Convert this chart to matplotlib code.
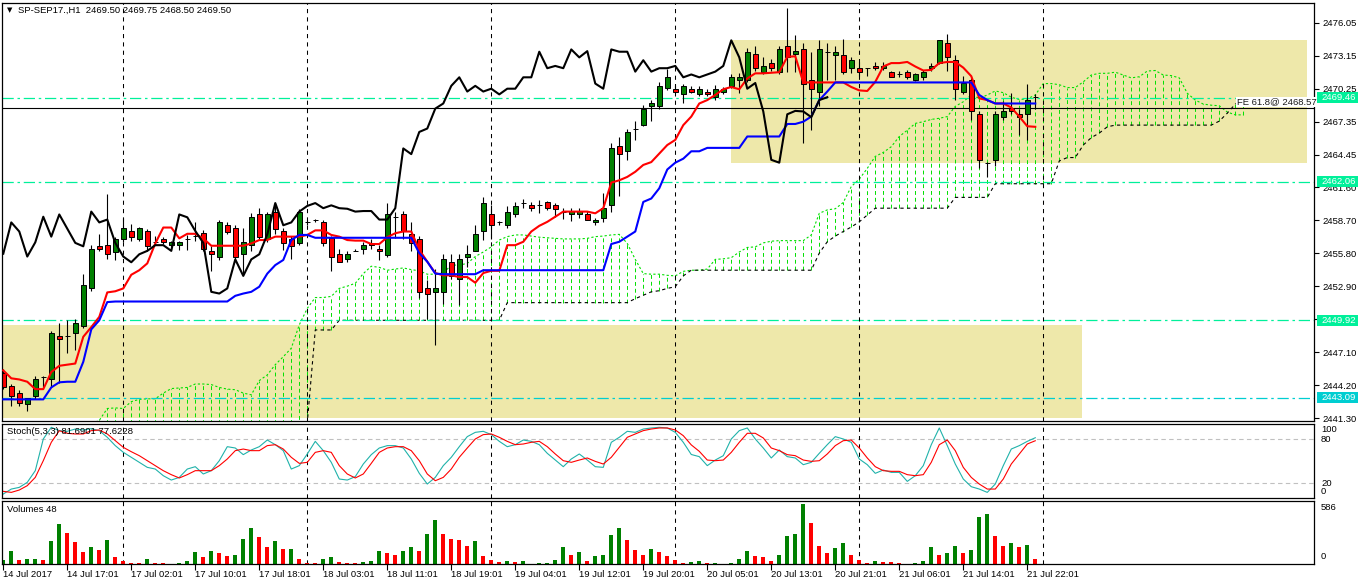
import matplotlib
matplotlib.use("Agg")
import matplotlib.pyplot as plt
import matplotlib.transforms as mtransforms
from matplotlib.patches import Rectangle
import numpy as np

plt.rcParams['font.family'] = ['Liberation Sans', 'DejaVu Sans']
FS = 6.8

# ---------------- data ----------------
symbol = "SP-SEP17.,H1"
tick_labels = ['14 Jul 2017', '14 Jul 17:01', '17 Jul 02:01', '17 Jul 10:01', '17 Jul 18:01',
               '18 Jul 03:01', '18 Jul 11:01', '18 Jul 19:01', '19 Jul 04:01', '19 Jul 12:01',
               '19 Jul 20:01', '20 Jul 05:01', '20 Jul 13:01', '20 Jul 21:01', '21 Jul 06:01',
               '21 Jul 14:01', '21 Jul 22:01']
day_start_bars = [15, 38, 61, 84, 107, 130]
price_ticks = [2476.05, 2473.15, 2470.25, 2467.35, 2464.45, 2461.60, 2458.70,
               2455.80, 2452.90, 2450.00, 2447.10, 2444.20, 2441.30]

opens = [2445.25, 2444.15, 2443.5, 2442.5, 2443.25, 2444.9, 2444.75, 2448.5, 2448.5, 2448.75,
         2449.4, 2452.7, 2456.45, 2456.5, 2455.9, 2457.0, 2457.75, 2457.0, 2457.75, 2456.75,
         2457.0, 2456.5, 2456.5, 2457.0, 2457.3, 2457.55, 2456.0, 2455.5, 2458.25, 2458.0,
         2455.75, 2456.5, 2459.2, 2457.0, 2459.45, 2457.75, 2457.0, 2456.7, 2458.5, 2458.75,
         2458.5, 2457.15, 2455.7, 2455.25, 2456.0, 2456.2, 2456.7, 2456.2, 2455.65, 2458.95,
         2459.2, 2457.45, 2457.0, 2452.7, 2452.4, 2452.4, 2455.0, 2453.5, 2455.5, 2456.0,
         2457.75, 2459.2, 2458.5, 2458.25, 2459.2, 2460.2, 2460.0, 2460.0, 2460.25, 2460.0,
         2459.45, 2459.2, 2459.2, 2459.2, 2458.5, 2458.9, 2460.0, 2465.25, 2464.75, 2466.75,
         2467.05, 2468.75, 2468.75, 2470.3, 2470.25, 2469.75, 2470.25, 2469.75, 2470.0, 2469.5,
         2470.0, 2470.5, 2471.0, 2471.0, 2473.3, 2471.75, 2472.5, 2471.75, 2474.0, 2473.3,
         2473.7, 2471.0, 2470.0, 2473.5, 2473.25, 2473.25, 2472.05, 2472.05, 2472.05, 2472.25,
         2472.05, 2471.75, 2471.5, 2471.75, 2471.0, 2471.25, 2472.05, 2472.5, 2474.25, 2472.75,
         2470.0, 2471.0, 2468.0, 2463.75, 2464.0, 2467.75, 2468.55, 2468.0, 2468.0, 2469.5]
highs = [2445.6, 2444.3, 2443.75, 2443.1, 2445.0, 2445.0, 2449.0, 2449.7, 2449.9, 2450.0,
         2453.95, 2456.5, 2457.5, 2461.0, 2457.2, 2458.9, 2458.4, 2458.1, 2457.9, 2457.3,
         2457.2, 2456.9, 2456.9, 2457.4, 2458.5, 2457.8, 2456.4, 2458.7, 2458.5, 2458.25,
         2458.0, 2459.3, 2459.8, 2459.4, 2460.2, 2458.0, 2457.3, 2459.7, 2458.7, 2458.8,
         2458.7, 2457.3, 2456.2, 2456.0, 2456.2, 2456.75, 2457.0, 2456.5, 2460.2, 2459.45,
         2459.5, 2458.5, 2457.3, 2453.4, 2454.45, 2455.7, 2455.7, 2455.7, 2456.5, 2458.3,
         2460.75, 2460.0, 2458.6, 2459.9, 2460.3, 2460.6, 2460.3, 2460.5, 2460.4, 2460.2,
         2459.8, 2459.75, 2459.75, 2459.5, 2458.9, 2461.05, 2465.5, 2466.0, 2466.7, 2467.45,
         2468.8, 2469.3, 2470.8, 2472.0, 2470.6, 2470.7, 2470.5, 2470.5, 2470.25, 2470.6,
         2470.4, 2471.5, 2471.6, 2473.85, 2474.0, 2473.0, 2472.9, 2474.0, 2477.3, 2475.0,
         2474.3, 2473.5, 2474.5, 2474.3, 2474.0, 2474.6, 2473.0, 2472.6, 2472.1, 2472.6,
         2472.6, 2471.8, 2471.8, 2471.9, 2471.6, 2471.9, 2472.5, 2474.55, 2475.05, 2473.2,
         2471.4, 2471.2, 2468.3, 2463.8, 2468.3, 2469.2, 2469.9, 2468.5, 2470.7, 2469.75]
lows = [2443.9, 2442.4, 2442.4, 2441.9, 2443.0, 2444.0, 2444.0, 2444.4, 2447.0, 2447.3,
        2449.2, 2452.5, 2456.0, 2455.3, 2455.2, 2456.8, 2456.9, 2456.9, 2456.0, 2456.5,
        2456.6, 2456.3, 2456.1, 2456.1, 2456.9, 2456.0, 2454.2, 2455.2, 2457.5, 2455.3,
        2454.0, 2456.0, 2457.0, 2456.8, 2457.5, 2456.1, 2455.25, 2456.5, 2458.3, 2458.5,
        2456.4, 2454.2, 2455.0, 2455.0, 2456.0, 2455.7, 2456.2, 2455.2, 2455.5, 2457.1,
        2457.0, 2456.0, 2451.9, 2450.05, 2447.7, 2451.3, 2453.5, 2451.2, 2454.6, 2456.0,
        2456.95, 2457.0, 2458.3, 2458.0, 2459.0, 2459.75, 2459.5, 2459.3, 2459.6, 2459.0,
        2458.8, 2458.6, 2458.9, 2458.7, 2458.25, 2458.5, 2459.45, 2460.8, 2464.0, 2465.7,
        2467.0, 2467.4, 2468.5, 2470.1, 2469.9, 2468.95, 2469.9, 2469.6, 2469.6, 2469.3,
        2469.8, 2470.3, 2469.9, 2470.8, 2471.8, 2471.5, 2471.8, 2471.5, 2471.75, 2471.75,
        2465.5, 2466.6, 2468.7, 2471.05, 2471.0, 2471.5, 2471.6, 2471.4, 2471.4, 2471.9,
        2471.9, 2471.25, 2471.3, 2471.1, 2470.9, 2471.0, 2471.8, 2472.4, 2471.8, 2469.25,
        2469.8, 2467.5, 2463.25, 2462.5, 2463.5, 2467.5, 2468.0, 2466.2, 2465.7, 2468.5]
closes = [2444.0, 2443.25, 2442.6, 2443.1, 2444.75, 2444.9, 2448.75, 2448.25, 2448.5, 2449.7,
          2453.0, 2456.2, 2456.2, 2455.75, 2457.0, 2458.0, 2457.25, 2458.0, 2456.45, 2456.75,
          2456.75, 2456.75, 2456.75, 2457.0, 2457.3, 2456.2, 2455.75, 2458.5, 2457.7, 2455.5,
          2456.75, 2459.0, 2457.25, 2459.2, 2457.95, 2456.7, 2456.4, 2459.45, 2458.5, 2458.75,
          2456.7, 2455.5, 2455.0, 2455.7, 2456.0, 2456.5, 2456.5, 2456.0, 2459.2, 2458.95,
          2457.75, 2456.7, 2452.4, 2452.25, 2452.7, 2455.25, 2453.8, 2455.25, 2455.7, 2457.45,
          2460.2, 2458.25, 2458.5, 2459.45, 2459.95, 2460.2, 2459.75, 2460.0, 2459.75, 2459.7,
          2459.45, 2459.5, 2459.5, 2458.75, 2458.75, 2459.75, 2465.0, 2464.5, 2466.45, 2466.75,
          2468.5, 2468.95, 2470.5, 2471.25, 2470.0, 2470.5, 2470.0, 2470.25, 2469.75, 2470.25,
          2470.25, 2471.25, 2471.25, 2473.5, 2472.05, 2472.25, 2472.05, 2473.7, 2473.0, 2473.55,
          2470.7, 2470.25, 2473.7, 2473.5, 2473.5, 2471.75, 2472.75, 2471.75, 2472.05, 2472.05,
          2472.25, 2471.25, 2471.5, 2471.25, 2471.5, 2471.75, 2472.25, 2474.5, 2473.0, 2470.25,
          2470.75, 2468.25, 2464.0, 2463.75, 2468.0, 2468.3, 2468.25, 2467.75, 2469.25, 2469.5]

tenkan = [2445.5, 2444.8, 2444.7, 2444.5, 2443.85, 2443.85, 2445.35, 2445.9, 2446.0, 2446.1,
          2448.45, 2449.3, 2450.2, 2452.35, 2452.45, 2452.7, 2453.9, 2454.3, 2454.9, 2456.65,
          2458.05, 2458.05, 2457.1, 2457.5, 2457.5, 2457.1, 2456.45, 2456.45, 2456.45, 2456.45,
          2456.45, 2456.65, 2456.95, 2456.95, 2457.25, 2457.25, 2457.25, 2457.25, 2457.4, 2457.8,
          2457.8, 2457.4, 2457.25, 2456.95, 2456.9, 2456.9, 2456.6, 2456.6, 2457.2, 2457.55,
          2457.7, 2457.7, 2456.1, 2455.05, 2454.05, 2453.85, 2453.85, 2453.7, 2453.7, 2453.2,
          2454.05, 2454.25, 2454.25, 2456.5, 2456.5, 2456.8, 2457.7, 2458.2, 2458.55, 2459.0,
          2459.45, 2459.45, 2459.45, 2459.45, 2459.3, 2459.75, 2462.0, 2462.2, 2462.5, 2462.95,
          2463.55, 2463.8, 2464.55, 2465.3, 2465.75, 2467.05, 2467.8, 2468.95, 2469.25, 2469.7,
          2470.2, 2470.4, 2470.2, 2471.15, 2471.6, 2471.6, 2471.65, 2471.7, 2473.05, 2473.1,
          2470.8, 2470.8, 2470.8, 2470.8, 2470.8, 2470.8, 2470.4, 2470.1, 2470.05, 2470.85,
          2472.2, 2472.5, 2472.5, 2472.6, 2472.2, 2471.85, 2471.9, 2472.5, 2472.6, 2472.6,
          2472.1, 2471.35, 2469.4, 2469.25, 2468.95, 2468.95, 2468.6, 2467.8, 2466.95, 2466.9]
kijun = [2442.95, 2442.95, 2442.95, 2442.95, 2442.95, 2442.95, 2444.0, 2444.45, 2444.5, 2444.5,
         2446.25, 2449.1, 2449.9, 2451.5, 2451.55, 2451.55, 2451.55, 2451.55, 2451.55, 2451.55,
         2451.55, 2451.55, 2451.55, 2451.55, 2451.55, 2451.55, 2451.55, 2451.55, 2451.55, 2452.05,
         2452.25, 2452.4, 2452.85, 2454.0, 2454.75, 2455.2, 2456.95, 2457.4, 2457.4, 2457.15,
         2457.15, 2457.15, 2457.15, 2457.15, 2457.15, 2457.15, 2457.15, 2457.15, 2457.15, 2457.15,
         2457.15, 2457.15, 2455.8, 2455.05, 2454.0, 2453.95, 2453.95, 2453.95, 2453.95, 2453.95,
         2454.3, 2454.3, 2454.3, 2454.3, 2454.3, 2454.3, 2454.3, 2454.3, 2454.3, 2454.3,
         2454.3, 2454.3, 2454.3, 2454.3, 2454.3, 2454.3, 2456.6, 2456.8, 2457.25, 2457.7,
         2460.3, 2460.6, 2461.5, 2463.15, 2463.75, 2464.1, 2464.75, 2464.75, 2465.05, 2465.05,
         2465.05, 2465.05, 2465.05, 2466.05, 2466.05, 2466.05, 2466.05, 2466.05, 2467.15, 2467.15,
         2467.35, 2467.8, 2469.25, 2470.0, 2470.8, 2470.8, 2470.8, 2470.8, 2470.8, 2470.8,
         2470.8, 2470.8, 2470.8, 2470.8, 2470.8, 2470.8, 2470.8, 2470.8, 2470.8, 2470.8,
         2470.8, 2470.8, 2469.7, 2469.25, 2468.95, 2468.95, 2468.95, 2468.95, 2468.95, 2468.95]
senkou_a = [2440.0, 2440.0, 2440.0, 2440.0, 2440.1, 2440.2, 2440.3, 2440.4, 2440.5, 2440.6,
            2440.7, 2440.8, 2441.1, 2442.15, 2442.2, 2442.15, 2442.75, 2442.95, 2443.0, 2443.0,
            2443.5, 2443.9, 2443.95, 2444.0, 2444.3, 2444.3, 2444.25, 2444.0, 2443.85, 2443.8,
            2443.5, 2443.35, 2444.6, 2445.1, 2446.0, 2446.7, 2447.45, 2449.5, 2450.95, 2451.9,
            2451.9, 2452.0, 2452.7, 2452.9, 2453.15, 2454.0, 2454.65, 2454.55, 2454.3, 2454.4,
            2454.5, 2454.35, 2454.25, 2453.95, 2453.95, 2454.05, 2454.75, 2454.75, 2454.9, 2455.5,
            2455.9, 2456.35, 2456.95, 2457.25, 2457.4, 2457.4, 2457.3, 2457.2, 2457.15, 2457.1,
            2457.05, 2457.05, 2457.05, 2457.1, 2457.25, 2457.3, 2457.4, 2457.45, 2456.65, 2455.25,
            2454.0, 2453.95, 2453.95, 2453.85, 2453.8, 2454.2, 2454.3, 2454.3, 2454.4, 2455.25,
            2455.3, 2455.4, 2455.9, 2456.3, 2456.35, 2456.7, 2456.85, 2456.9, 2456.9, 2456.9,
            2456.9, 2457.4, 2459.3, 2459.6, 2459.7, 2460.25, 2461.65, 2462.3, 2463.25, 2464.3,
            2464.65, 2465.15, 2466.05, 2466.6, 2467.2, 2467.35, 2467.55, 2467.65, 2467.8, 2468.7,
            2469.1, 2469.7, 2469.4, 2469.7, 2470.05, 2469.9, 2469.5, 2469.3, 2469.35, 2469.7,
            2470.7, 2470.7, 2470.6, 2470.35, 2470.35, 2470.85, 2471.45, 2471.6, 2471.6, 2471.7,
            2471.45, 2471.2, 2471.3, 2471.8, 2471.85, 2471.45, 2471.4, 2471.2, 2469.85, 2469.25,
            2468.9, 2468.8, 2468.75, 2468.2, 2467.95, 2467.95]
senkou_b = [2439.0, 2439.0, 2439.0, 2439.0, 2439.0, 2439.0, 2439.0, 2439.0, 2439.0, 2439.0,
            2439.0, 2439.0, 2439.0, 2439.0, 2439.0, 2439.0, 2439.0, 2439.0, 2439.0, 2439.0,
            2439.0, 2439.0, 2439.0, 2439.0, 2439.0, 2439.0, 2439.0, 2439.0, 2439.0, 2439.0,
            2439.0, 2439.0, 2439.0, 2439.0, 2439.0, 2439.0, 2439.0, 2440.0, 2440.9, 2449.05,
            2449.05, 2449.05, 2449.9, 2449.9, 2449.9, 2449.9, 2449.9, 2449.9, 2449.9, 2449.9,
            2449.9, 2449.9, 2449.9, 2449.9, 2449.9, 2449.9, 2449.9, 2449.9, 2449.9, 2449.9,
            2449.9, 2449.9, 2449.9, 2451.45, 2451.45, 2451.45, 2451.45, 2451.45, 2451.45, 2451.45,
            2451.45, 2451.45, 2451.45, 2451.45, 2451.45, 2451.45, 2451.45, 2451.45, 2451.45, 2451.8,
            2452.1, 2452.4, 2452.5, 2452.7, 2452.85, 2453.8, 2454.3, 2454.3, 2454.3, 2454.3,
            2454.3, 2454.3, 2454.3, 2454.3, 2454.3, 2454.3, 2454.3, 2454.3, 2454.3, 2454.3,
            2454.3, 2454.3, 2455.8, 2456.8, 2457.3, 2457.7, 2458.1, 2458.55, 2459.15, 2459.75,
            2459.75, 2459.75, 2459.75, 2459.75, 2459.75, 2459.75, 2459.75, 2459.75, 2459.75, 2460.7,
            2460.7, 2460.7, 2460.7, 2460.7, 2461.9, 2461.9, 2461.9, 2461.9, 2461.9, 2461.9,
            2461.9, 2461.9, 2463.9, 2464.2, 2464.2, 2465.3, 2465.95, 2466.35, 2466.9, 2467.05,
            2467.05, 2467.05, 2467.05, 2467.05, 2467.05, 2467.05, 2467.05, 2467.05, 2467.05, 2467.05,
            2467.05, 2467.05, 2467.4, 2468.1, 2468.9, 2469.1]
chikou_shift = 26

stoch_main = [5.5, 12.2, 14.5, 21.3, 37.1, 80, 95.8, 91.3, 90.4, 93.5,
              92.2, 94, 91.3, 82.3, 71, 62, 55.2, 48.4, 41.6, 39.3,
              30.3, 24.4, 28, 39.3, 42.5, 32.6, 37.1, 50.6, 69.6, 67.8,
              58.8, 65.1, 69.6, 78.6, 72.3, 64.2, 39.3, 43.9, 59.7, 76.8,
              64.2, 48.4, 25.8, 24.4, 29, 46.1, 58.8, 67.8, 71, 71,
              67.8, 52.9, 33.5, 19, 28, 43.9, 55.2, 69.6, 83.2, 89,
              90.4, 85.9, 76.8, 69.6, 72.3, 78.6, 76.8, 72.3, 60.6, 51.5,
              42.5, 52.9, 59.7, 51.5, 42.5, 41.6, 75.5, 82.3, 90.4, 89,
              93.5, 94.9, 95.8, 94.9, 89, 75.5, 59, 56.1, 43.9, 51.5,
              57.4, 80, 91.3, 94.9, 80, 67.8, 54.3, 65.1, 56.1, 54.3,
              45.2, 48.4, 60.6, 72.3, 83.2, 80, 75.5, 52.9, 45.2, 33.5,
              38, 34.8, 34.8, 22.6, 30.3, 43.9, 72.3, 94.9, 71, 46.1,
              25.8, 15.4, 12.2, 7.7, 19, 43.9, 66.4, 71, 76.8, 81.6901]
stoch_signal = [9.1, 7.7, 10.9, 16.8, 28, 50.6, 75.5, 91.3, 87.7, 86.8,
                86.8, 91.3, 92.2, 86.8, 77.7, 68.7, 62.8, 57.4, 50.6, 43.9,
                37.1, 31.7, 27.2, 31.7, 37.1, 37.1, 37.1, 43.9, 52.9, 64.2,
                66.4, 64.2, 64.2, 71, 72.3, 66.4, 55.2, 47, 48.4, 61.9,
                64.2, 61.9, 43.9, 32.6, 27.2, 32.6, 47, 61.9, 67.8, 69.6,
                69.6, 64.2, 50.6, 32.6, 23.5, 28, 39.3, 55.2, 67.8, 80,
                85.9, 86.8, 82.3, 76.8, 72.3, 73.2, 75.5, 76.8, 69.6, 59.7,
                50.6, 48.4, 51.5, 54.3, 49.7, 46.1, 55.2, 68.7, 82.3, 86.8,
                91.3, 93.5, 94.9, 94.9, 92.2, 84.5, 72, 63.3, 51.5, 50.6,
                51.5, 61.9, 75.5, 87.7, 87.7, 81.4, 67.8, 64.2, 58.8, 57.4,
                51.5, 49.7, 50.6, 59.7, 71, 77.7, 78.6, 67.8, 54.3, 42.5,
                37.1, 36.2, 36.2, 31.7, 30.3, 31.7, 48.4, 72.3, 78.6, 64.2,
                41.6, 28, 19, 12.2, 12.2, 25.8, 46.1, 59.7, 73.2, 77.6228]
stoch_levels = [80, 20]

volumes = [37, 129, 37, 47, 50, 37, 220, 393, 301, 210,
           118, 169, 139, 230, 68, 27, 8, 6, 47, 10,
           9, 3, 7, 27, 118, 68, 129, 108, 78, 88,
           240, 352, 261, 169, 220, 148, 150, 47, 10, 9,
           47, 68, 17, 8, 7, 17, 27, 129, 108, 88,
           129, 169, 129, 291, 433, 291, 240, 238, 179, 220,
           78, 37, 17, 27, 17, 27, 2, 7, 8, 37,
           169, 88, 118, 27, 78, 88, 281, 352, 230, 139,
           88, 149, 118, 78, 37, 7, 17, 27, 7, 8,
           2, 7, 47, 129, 78, 68, 27, 88, 271, 291,
           586, 403, 179, 108, 159, 200, 88, 37, 7, 27,
           17, 16, 7, 3, 5, 27, 169, 88, 108, 179,
           108, 139, 454, 484, 271, 179, 200, 169, 190, 48]

# user drawn zones (bar_from, bar_to, price_low, price_high)
zones = [(-5.0, 134.85, 2441.3, 2449.5), (90.95, 163.0, 2463.75, 2474.53)]
# horizontal levels (price, colour)
levels = [(2469.46, '#00F09A'), (2462.06, '#00F09A'), (2449.92, '#00F09A'), (2443.09, '#00CED1')]
fe_level = 2468.57
fe_text = 'FE 61.8@ 2468.57'
fe_text_bar = 154.2

# ---------------- figure ----------------
W, H = 1358, 584
fig = plt.figure(figsize=(W / 100, H / 100), dpi=100)
fig.patch.set_facecolor('white')


def rect(x0, y0, x1, y1):
    return [x0 / W, 1 - y1 / H, (x1 - x0) / W, (y1 - y0) / H]


ax = fig.add_axes(rect(2, 3, 1314, 421))
axs = fig.add_axes(rect(2, 424, 1314, 498))
axv = fig.add_axes(rect(2, 500.5, 1314, 564))

n = len(closes)
idx = np.arange(n)
o = np.array(opens); c = np.array(closes); hi = np.array(highs); lo = np.array(lows)

for a in (ax, axs, axv):
    a.set_xlim(-0.16, 163.84)
    a.set_facecolor('white')
    for s in a.spines.values():
        s.set_linewidth(0.9)
        s.set_color('black')
    a.tick_params(axis='x', bottom=False, labelbottom=False)
    a.tick_params(axis='y', left=False, labelleft=False, right=False, labelright=False)
    for d in day_start_bars:
        a.axvline(d, color='black', lw=0.75, ls=(0, (4, 4)), zorder=1.7)

# ---- main panel ----
ax.set_ylim(2441.05, 2477.78)
for (b0, b1, p0, p1) in zones:
    ax.add_patch(Rectangle((b0, p0), b1 - b0, p1 - p0, fc='#EEE8AA', ec='none', zorder=0.5))

sa = np.array(senkou_a); sb = np.array(senkou_b)
ia = np.arange(len(sa))
ax.vlines(ia, np.minimum(sa, sb), np.maximum(sa, sb), colors='#00E000',
          linestyles=(0, (4, 3)), lw=0.7, zorder=1)
ax.plot(ia, sa, color='#00E000', lw=0.8, ls=(0, (2, 2)), zorder=1.2)
ax.plot(ia, sb, color='black', lw=0.8, ls=(0, (3, 3)), zorder=1.2)

for p, col in levels:
    ax.axhline(p, color=col, lw=0.9, ls=(0, (9, 3, 2, 3)), zorder=1.5)
ax.axhline(fe_level, color='black', lw=0.8, zorder=1.6)

ax.vlines(idx, lo, hi, color='black', lw=0.8, zorder=2)
body_col = np.where(c > o, '#008000', '#FF0000')
ax.bar(idx, np.abs(c - o), bottom=np.minimum(o, c), width=0.62, color=body_col,
       edgecolor='black', linewidth=0.7, zorder=2.1)

ax.plot(idx, tenkan, color='#FF0000', lw=1.5, zorder=3)
ax.plot(idx, kijun, color='#0000FF', lw=1.5, zorder=3.1)
ax.plot(np.arange(n - chikou_shift), c[chikou_shift:], color='black', lw=1.5, zorder=3.2)

ax.text(fe_text_bar, fe_level + 0.12, fe_text, fontsize=FS, ha='left', va='bottom',
        color='#1a1a1a', zorder=4, bbox=dict(boxstyle='square,pad=0.1', fc='white', ec='none'))

ax.yaxis.tick_right()
ax.set_yticks(price_ticks)
ax.set_yticklabels([f'{v:.2f}' for v in price_ticks])
ax.tick_params(axis='y', right=True, labelright=True, left=False, labelleft=False,
               length=3.5, width=0.8, pad=2.5, labelsize=FS, colors='black')

blend = mtransforms.blended_transform_factory(ax.transAxes, ax.transData)
box_h = 11 / 11.38
for p, col in levels:
    ax.add_patch(Rectangle((1 + 2.7 / 1312, p - box_h / 2), 42 / 1312, box_h, transform=blend,
                           fc=col, ec='none', clip_on=False, zorder=5))
    ax.text(1 + 7.5 / 1312, p, f'{p:.2f}', transform=blend, color='white', fontsize=FS,
            ha='left', va='center', clip_on=False, zorder=6)

fig.text(7 / W, 1 - 10.5 / H, '▼', fontsize=5, ha='left', va='center', family=['DejaVu Sans'])
fig.text(18 / W, 1 - 10.5 / H,
         f'{symbol}  {opens[-1]:.2f} {highs[-1]:.2f} {lows[-1]:.2f} {closes[-1]:.2f}',
         fontsize=FS, ha='left', va='center')

# ---- stochastic panel ----
axs.set_ylim(0.09, 100.3)
for lv in stoch_levels:
    axs.axhline(lv, color='#C0C0C0', lw=0.8, ls=(0, (4, 3)), zorder=1)
axs.plot(idx, stoch_main, color='#20B2AA', lw=0.8, zorder=2)
axs.plot(idx, stoch_signal, color='#FF0000', lw=0.8, zorder=2.1)
fig.text(7 / W, 1 - 432 / H, f'Stoch(5,3,3) {stoch_main[-1]:.4f} {stoch_signal[-1]:.4f}',
         fontsize=FS, ha='left', va='center')
for lab, yy in (('100', 430), ('80', 439.5), ('20', 483.5), ('0', 492)):
    fig.text(1321 / W, 1 - yy / H, lab, fontsize=FS, ha='left', va='center')

# ---- volume panel ----
v = np.array(volumes)
vcol = ['#008000' if (i > 0 and v[i] > v[i - 1]) or i == 0 else '#FF0000' for i in range(n)]
axv.set_ylim(0, 619)
axv.bar(idx, v, width=0.55, color=vcol, zorder=2)
fig.text(7 / W, 1 - 509 / H, f'Volumes {volumes[-1]}', fontsize=FS, ha='left', va='center')
fig.text(1321 / W, 1 - 507.5 / H, f'{max(volumes)}', fontsize=FS, ha='left', va='center')
fig.text(1321 / W, 1 - 556.5 / H, '0', fontsize=FS, ha='left', va='center')

axv.set_xticks(np.arange(0, n, 8))
axv.set_xticklabels(tick_labels)
axv.tick_params(axis='x', bottom=True, labelbottom=True, length=4, width=0.8, pad=0.6,
                labelsize=FS)
for t in axv.get_xticklabels():
    t.set_horizontalalignment('left')

fig.savefig('out.png', dpi=100, facecolor='white')
